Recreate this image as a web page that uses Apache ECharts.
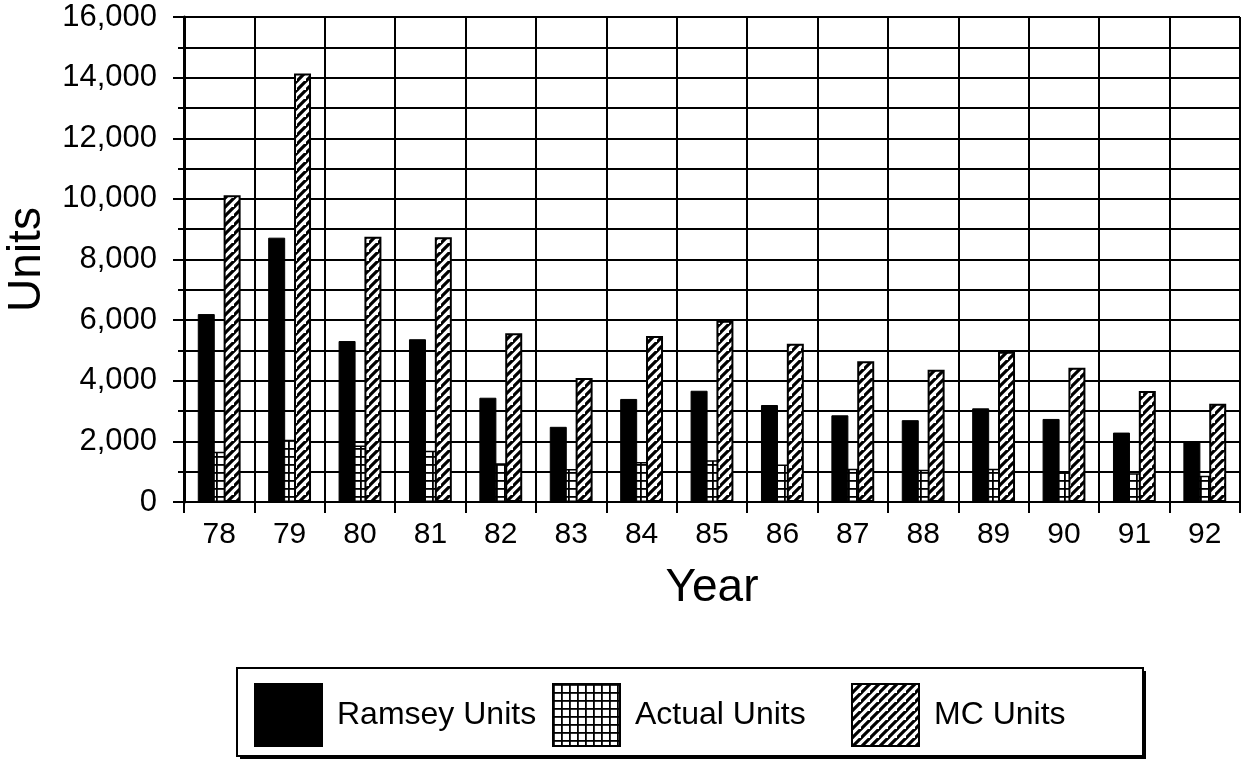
<!DOCTYPE html>
<html>
<head>
<meta charset="utf-8">
<script src="https://cdn.jsdelivr.net/npm/echarts@6/dist/echarts.min.js"></script>
<style>
  html, body { margin: 0; padding: 0; background: #fff; }
  #chart { width: 1241px; height: 764px; }
</style>
</head>
<body>
<div id="chart"></div>
<script>
// Units per year
const years = ['78', '79', '80', '81', '82', '83', '84', '85', '86', '87', '88', '89', '90', '91', '92'];
const ramseyUnits = [6200, 8720, 5310, 5370, 3440, 2480, 3400, 3670, 3200, 2860, 2700, 3090, 2740, 2290, 2010];
const actualUnits = [1660, 2050, 1860, 1690, 1280, 1090, 1320, 1380, 1240, 1100, 1060, 1100, 980, 950, 870];
const mcUnits = [10120, 14140, 8750, 8730, 5570, 4090, 5480, 5980, 5220, 4640, 4360, 4960, 4430, 3660, 3240];

const FONT = "'Liberation Sans', Arial, sans-serif";

// Fill patterns: square grid and diagonal hatch
function gridTile() {
  const c = document.createElement('canvas');
  c.width = 8; c.height = 8;
  const g = c.getContext('2d');
  g.fillStyle = '#fff'; g.fillRect(0, 0, 8, 8);
  g.fillStyle = '#000';
  g.fillRect(0, 0, 8, 1.8);
  g.fillRect(0, 0, 1.8, 8);
  return c;
}
function hatchTile() {
  const s = 9;
  const c = document.createElement('canvas');
  c.width = s; c.height = s;
  const g = c.getContext('2d');
  g.fillStyle = '#fff'; g.fillRect(0, 0, s, s);
  g.strokeStyle = '#000'; g.lineWidth = 3.2; g.lineCap = 'square';
  g.beginPath();
  g.moveTo(-1, s + 1); g.lineTo(s + 1, -1);
  g.moveTo(-s - 1, s + 1); g.lineTo(1, -1);
  g.moveTo(s - 1, s + s + 1); g.lineTo(s + s + 1, s - 1);
  g.stroke();
  return c;
}
const gridFill = { image: gridTile(), repeat: 'repeat' };
const hatchFill = { image: hatchTile(), repeat: 'repeat' };

const chart = echarts.init(document.getElementById('chart'), null, { renderer: 'canvas' });

function legendFor(name, left) {
  return {
    data: [{ name: name, icon: 'rect' }],
    left: left,
    top: 683,
    orient: 'horizontal',
    itemWidth: 67,
    itemHeight: 62,
    selectedMode: false,
    padding: 0,
    textStyle: { fontFamily: FONT, fontSize: 32, color: '#000', padding: [0, 0, 0, 10] }
  };
}

chart.setOption({
  animation: false,
  backgroundColor: '#fff',
  textStyle: { fontFamily: FONT, color: '#000' },
  grid: { left: 184, right: 1, top: 17, bottom: 262, containLabel: false, outerBoundsMode: 'none' },
  graphic: [
    // legend frame with drop shadow
    { type: 'rect', shape: { x: 240, y: 671, width: 906, height: 88 }, style: { fill: '#000' }, z: 0 },
    { type: 'rect', shape: { x: 237, y: 668, width: 906, height: 88 }, style: { fill: '#fff', stroke: '#000', lineWidth: 2 }, z: 1 }
  ],
  legend: [
    legendFor('Ramsey Units', 254),
    legendFor('Actual Units', 552),
    legendFor('MC Units', 851)
  ],
  xAxis: {
    type: 'category',
    data: years,
    name: 'Year',
    nameLocation: 'middle',
    nameGap: 63,
    nameTextStyle: { fontFamily: FONT, fontSize: 46, color: '#000' },
    axisLine: { lineStyle: { color: '#000', width: 2 } },
    axisTick: { show: true, length: 11, inside: false, lineStyle: { color: '#000', width: 2 } },
    axisLabel: { fontFamily: FONT, fontSize: 30, color: '#000', margin: 18 },
    splitLine: { show: true, lineStyle: { color: '#000', width: 2 } }
  },
  yAxis: {
    type: 'value',
    min: 0,
    max: 16000,
    interval: 2000,
    name: 'Units',
    nameLocation: 'middle',
    nameGap: 134,
    nameTextStyle: { fontFamily: FONT, fontSize: 46, color: '#000' },
    axisLine: { show: true, lineStyle: { color: '#000', width: 3 } },
    axisTick: { show: true, length: 11, lineStyle: { color: '#000', width: 2 } },
    minorTick: { show: true, splitNumber: 2, length: 6, lineStyle: { color: '#000', width: 2 } },
    axisLabel: {
      fontFamily: FONT, fontSize: 31, color: '#000', margin: 27,
      formatter: v => v.toLocaleString('en-US')
    },
    splitLine: { show: true, lineStyle: { color: '#000', width: 2 } },
    minorSplitLine: { show: true, lineStyle: { color: '#000', width: 2 } }
  },
  series: [
    {
      name: 'Ramsey Units', type: 'bar', data: ramseyUnits,
      barWidth: 17, barGap: '-24%', z: 3,
      itemStyle: { color: '#000', borderColor: '#000', borderWidth: 1 }
    },
    {
      name: 'Actual Units', type: 'bar', data: actualUnits,
      barWidth: 17, barGap: '-24%', z: 2,
      itemStyle: { color: gridFill, borderColor: '#000', borderWidth: 1.5 }
    },
    {
      name: 'MC Units', type: 'bar', data: mcUnits,
      barWidth: 17, barGap: '-24%', z: 3,
      itemStyle: { color: hatchFill, borderColor: '#000', borderWidth: 2 }
    }
  ]
});
</script>
</body>
</html>
